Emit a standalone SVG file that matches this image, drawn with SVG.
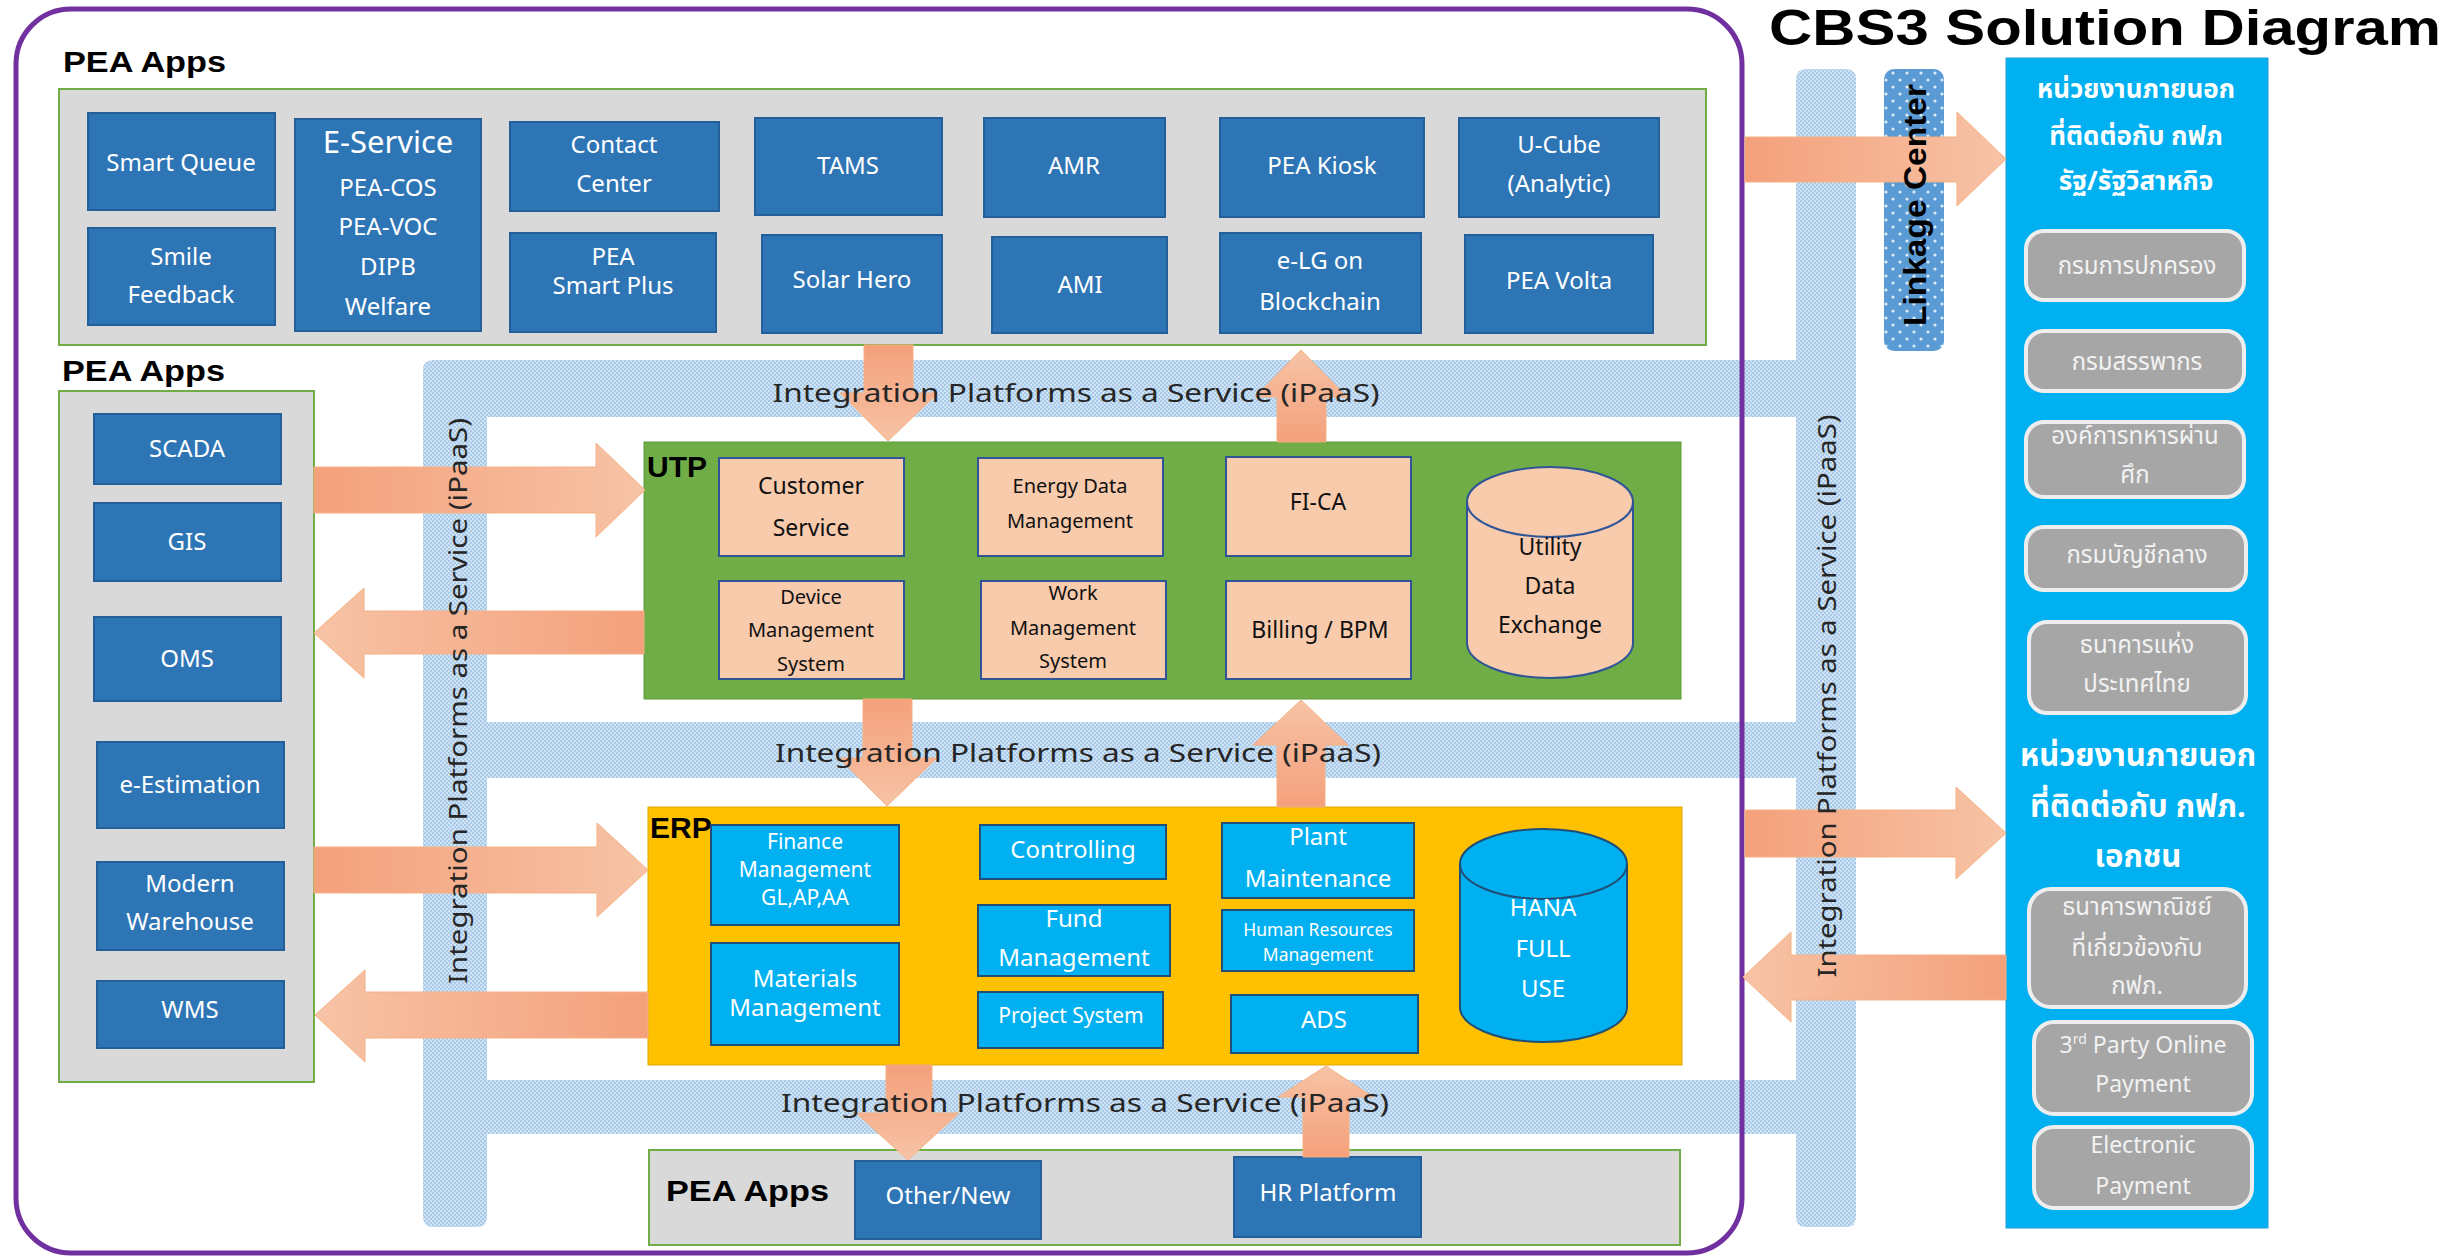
<svg xmlns="http://www.w3.org/2000/svg" width="2450" height="1260" viewBox="0 0 2450 1260">
<defs>
<pattern id="ipaasDots" width="4" height="4" patternUnits="userSpaceOnUse"><rect width="4" height="4" fill="#D0E3F4"/><rect width="2" height="2" fill="#A9CAE8"/><rect x="2" y="2" width="2" height="2" fill="#A9CAE8"/></pattern>
<pattern id="linkDots" width="14" height="14" patternUnits="userSpaceOnUse"><rect width="14" height="14" fill="#5B9BD5"/><circle cx="3" cy="3" r="1.6" fill="#DDEBF7"/><circle cx="10" cy="10" r="1.6" fill="#DDEBF7"/></pattern>
<linearGradient id="gR" x1="0" y1="0" x2="1" y2="0"><stop offset="0" stop-color="#F4A07B"/><stop offset="1" stop-color="#F7C3A6"/></linearGradient>
<linearGradient id="gL" x1="1" y1="0" x2="0" y2="0"><stop offset="0" stop-color="#F4A07B"/><stop offset="1" stop-color="#F7C3A6"/></linearGradient>
<linearGradient id="gD" x1="0" y1="0" x2="0" y2="1"><stop offset="0" stop-color="#F4A07B"/><stop offset="1" stop-color="#F7C3A6"/></linearGradient>
<linearGradient id="gU" x1="0" y1="1" x2="0" y2="0"><stop offset="0" stop-color="#F4A07B"/><stop offset="1" stop-color="#F7C3A6"/></linearGradient>
<style>
.blue{fill:#2E75B6;stroke:#23609A;stroke-width:2}
.peach{fill:#F8CBAD;stroke:#2F5597;stroke-width:2}
.cyan{fill:#00B0F0;stroke:#1F4E79;stroke-width:2}
.cont{fill:#D9D9D9;stroke:#70AD47;stroke-width:2}
.gbox{fill:#A6A6A6;stroke:#EEEEEE;stroke-width:4}
.band{fill:url(#ipaasDots)}
.tw{fill:#FFFFFF;font-family:"Noto Sans","Open Sans",sans-serif;font-size:24px;text-anchor:middle}
.tk{fill:#111111;font-family:"Noto Sans","Open Sans",sans-serif;font-size:23px;text-anchor:middle}
.s31{font-size:31px}
.s23{font-size:23px}
.s21{font-size:21px}
.s20{font-size:20px}
.s18{font-size:17.5px}
.lbl{fill:#000000;font-family:"Liberation Sans",Arial,sans-serif;font-weight:bold}
.ip{fill:#262626;font-family:"Noto Sans","Open Sans",sans-serif;font-size:26px;text-anchor:middle}
.th{fill:#FFFFFF;font-family:"Noto Sans Thai","Noto Sans Thai UI","Leelawadee UI",Tahoma,"Noto Sans",sans-serif;text-anchor:middle}
.thg{fill:#F2F2F2;font-family:"Noto Sans Thai","Noto Sans Thai UI","Leelawadee UI",Tahoma,"Noto Sans",sans-serif;font-size:24px;text-anchor:middle}
.en{fill:#F2F2F2;font-family:"Noto Sans","Open Sans",sans-serif;font-size:23px;text-anchor:middle}
.arr{stroke:#F4B183;stroke-width:1}
</style>
</defs>
<rect width="2450" height="1260" fill="#FFFFFF"/>

<!-- title -->
<text class="lbl" x="1769" y="45" font-size="50" textLength="672" lengthAdjust="spacingAndGlyphs">CBS3 Solution Diagram</text>

<!-- iPaaS bands -->
<g id="ipaas-bands">
<path class="band" d="M433 360 H1796 V79 Q1796 69 1806 69 H1846 Q1856 69 1856 79 V1217 Q1856 1227 1846 1227 H1806 Q1796 1227 1796 1217 V1134 H487 V1217 Q487 1227 477 1227 H433 Q423 1227 423 1217 V370 Q423 360 433 360 Z M487 417 V722 H1796 V417 Z M487 778 V1080 H1796 V778 Z" fill-rule="evenodd"/>
</g>

<!-- purple frame -->
<rect id="frame" x="16" y="9" width="1726" height="1244" rx="55" ry="55" fill="none" stroke="#7030A0" stroke-width="5"/>

<!-- Linkage Center -->
<g id="linkage-center">
<rect x="1884" y="69" width="60" height="282" rx="10" fill="url(#linkDots)"/>
</g>

<!-- Top PEA Apps -->
<g id="pea-apps-top">
<text class="lbl" x="63" y="72" font-size="30" textLength="163" lengthAdjust="spacingAndGlyphs">PEA Apps</text>
<rect class="cont" x="59" y="89" width="1647" height="256"/>
</g>
<g id="smart-queue"><rect class="blue" x="88" y="113" width="187" height="97"/><text class="tw" x="181" y="171">Smart Queue</text></g>
<g id="smile-feedback"><rect class="blue" x="88" y="228" width="187" height="97"/><text class="tw" x="181" y="265">Smile</text><text class="tw" x="181" y="303">Feedback</text></g>
<g id="e-service"><rect class="blue" x="295" y="119" width="186" height="212"/><text class="tw s31" x="388" y="153">E-Service</text><text class="tw" x="388" y="196">PEA-COS</text><text class="tw" x="388" y="235">PEA-VOC</text><text class="tw" x="388" y="275">DIPB</text><text class="tw" x="388" y="315">Welfare</text></g>
<g id="contact-center"><rect class="blue" x="510" y="122" width="209" height="89"/><text class="tw" x="614" y="153">Contact</text><text class="tw" x="614" y="192">Center</text></g>
<g id="pea-smart-plus"><rect class="blue" x="510" y="233" width="206" height="99"/><text class="tw" x="613" y="265">PEA</text><text class="tw" x="613" y="294">Smart Plus</text></g>
<g id="tams"><rect class="blue" x="755" y="118" width="187" height="97"/><text class="tw" x="848" y="174">TAMS</text></g>
<g id="solar-hero"><rect class="blue" x="762" y="235" width="180" height="98"/><text class="tw" x="852" y="288">Solar Hero</text></g>
<g id="amr"><rect class="blue" x="984" y="118" width="181" height="99"/><text class="tw" x="1074" y="174">AMR</text></g>
<g id="ami"><rect class="blue" x="992" y="237" width="175" height="96"/><text class="tw" x="1080" y="293">AMI</text></g>
<g id="pea-kiosk"><rect class="blue" x="1220" y="118" width="204" height="99"/><text class="tw" x="1322" y="174">PEA Kiosk</text></g>
<g id="elg-blockchain"><rect class="blue" x="1220" y="233" width="201" height="100"/><text class="tw" x="1320" y="269">e-LG on</text><text class="tw" x="1320" y="310">Blockchain</text></g>
<g id="u-cube"><rect class="blue" x="1459" y="118" width="200" height="99"/><text class="tw" x="1559" y="153">U-Cube</text><text class="tw" x="1559" y="192">(Analytic)</text></g>
<g id="pea-volta"><rect class="blue" x="1465" y="235" width="188" height="98"/><text class="tw" x="1559" y="289">PEA Volta</text></g>

<!-- Left PEA Apps -->
<g id="pea-apps-left">
<text class="lbl" x="62" y="381" font-size="30" textLength="163" lengthAdjust="spacingAndGlyphs">PEA Apps</text>
<rect class="cont" x="59" y="391" width="255" height="691"/>
</g>
<g id="scada"><rect class="blue" x="94" y="414" width="187" height="70"/><text class="tw" x="187" y="457">SCADA</text></g>
<g id="gis"><rect class="blue" x="94" y="503" width="187" height="78"/><text class="tw" x="187" y="550">GIS</text></g>
<g id="oms"><rect class="blue" x="94" y="617" width="187" height="84"/><text class="tw" x="187" y="667">OMS</text></g>
<g id="e-estimation"><rect class="blue" x="97" y="742" width="187" height="86"/><text class="tw" x="190" y="793">e-Estimation</text></g>
<g id="modern-warehouse"><rect class="blue" x="97" y="862" width="187" height="88"/><text class="tw" x="190" y="892">Modern</text><text class="tw" x="190" y="930">Warehouse</text></g>
<g id="wms"><rect class="blue" x="97" y="981" width="187" height="67"/><text class="tw" x="190" y="1018">WMS</text></g>

<!-- UTP -->
<g id="utp">
<rect x="644" y="442" width="1037" height="257" fill="#70AD47" stroke="#5E9A3A" stroke-width="1"/>
<text class="lbl" x="647" y="477" font-size="30">UTP</text>
</g>
<g id="customer-service"><rect class="peach" x="719" y="458" width="185" height="98"/><text class="tk" x="811" y="494">Customer</text><text class="tk" x="811" y="536">Service</text></g>
<g id="energy-data-management"><rect class="peach" x="978" y="458" width="185" height="98"/><text class="tk s20" x="1070" y="493">Energy Data</text><text class="tk s20" x="1070" y="528">Management</text></g>
<g id="fi-ca"><rect class="peach" x="1226" y="457" width="185" height="99"/><text class="tk" x="1318" y="510">FI-CA</text></g>
<g id="device-management-system"><rect class="peach" x="719" y="581" width="185" height="98"/><text class="tk s20" x="811" y="604">Device</text><text class="tk s20" x="811" y="637">Management</text><text class="tk s20" x="811" y="671">System</text></g>
<g id="work-management-system"><rect class="peach" x="981" y="581" width="185" height="98"/><text class="tk s20" x="1073" y="600">Work</text><text class="tk s20" x="1073" y="635">Management</text><text class="tk s20" x="1073" y="668">System</text></g>
<g id="billing-bpm"><rect class="peach" x="1226" y="581" width="185" height="98"/><text class="tk" x="1320" y="638">Billing / BPM</text></g>
<g id="utility-data-exchange">
<path class="peach" d="M1467 502 V643 A83 35 0 0 0 1633 643 V502"/>
<ellipse class="peach" cx="1550" cy="502" rx="83" ry="35"/>
<text class="tk" x="1550" y="555">Utility</text><text class="tk" x="1550" y="594">Data</text><text class="tk" x="1550" y="633">Exchange</text>
</g>

<!-- ERP -->
<g id="erp">
<rect x="648" y="807" width="1034" height="258" fill="#FFC000" stroke="#E0A800" stroke-width="1"/>
<text class="lbl" x="650" y="838" font-size="30">ERP</text>
</g>
<g id="finance-management"><rect class="cyan" x="711" y="825" width="188" height="100"/><text class="tw s21" x="805" y="849">Finance</text><text class="tw s21" x="805" y="877">Management</text><text class="tw s21" x="805" y="905">GL,AP,AA</text></g>
<g id="materials-management"><rect class="cyan" x="711" y="943" width="188" height="102"/><text class="tw" x="805" y="987">Materials</text><text class="tw" x="805" y="1016">Management</text></g>
<g id="controlling"><rect class="cyan" x="980" y="825" width="186" height="54"/><text class="tw" x="1073" y="858">Controlling</text></g>
<g id="fund-management"><rect class="cyan" x="978" y="905" width="192" height="71"/><text class="tw" x="1074" y="927">Fund</text><text class="tw" x="1074" y="966">Management</text></g>
<g id="project-system"><rect class="cyan" x="978" y="992" width="185" height="56"/><text class="tw s21" x="1071" y="1023">Project System</text></g>
<g id="plant-maintenance"><rect class="cyan" x="1222" y="823" width="192" height="75"/><text class="tw" x="1318" y="845">Plant</text><text class="tw" x="1318" y="887">Maintenance</text></g>
<g id="human-resources-management"><rect class="cyan" x="1222" y="910" width="192" height="61"/><text class="tw s18" x="1318" y="936">Human Resources</text><text class="tw s18" x="1318" y="961">Management</text></g>
<g id="ads"><rect class="cyan" x="1231" y="995" width="187" height="58"/><text class="tw" x="1324" y="1028">ADS</text></g>
<g id="hana-full-use">
<path class="cyan" d="M1460 864 V1007 A83.5 35 0 0 0 1627 1007 V864"/>
<ellipse class="cyan" cx="1543.5" cy="864" rx="83.5" ry="35"/>
<text class="tw" x="1543" y="916">HANA</text><text class="tw" x="1543" y="957">FULL</text><text class="tw" x="1543" y="997">USE</text>
</g>

<!-- Bottom PEA Apps -->
<g id="pea-apps-bottom">
<rect class="cont" x="649" y="1150" width="1031" height="95"/>
<text class="lbl" x="666" y="1201" font-size="30" textLength="163" lengthAdjust="spacingAndGlyphs">PEA Apps</text>
</g>
<g id="other-new"><rect class="blue" x="855" y="1161" width="186" height="78"/><text class="tw" x="948" y="1204">Other/New</text></g>
<g id="hr-platform"><rect class="blue" x="1234" y="1157" width="187" height="80"/><text class="tw" x="1328" y="1201">HR Platform</text></g>

<!-- External agencies panel -->
<g id="external-panel">
<rect x="2006" y="58" width="262" height="1170" fill="#00B0F0" stroke="#1FA0D8" stroke-width="1"/>
<text class="th" x="2136" y="98" font-size="26" font-weight="bold">หน่วยงานภายนอก</text>
<text class="th" x="2136" y="145" font-size="26" font-weight="bold">ที่ติดต่อกับ กฟภ</text>
<text class="th" x="2136" y="190" font-size="26" font-weight="bold">รัฐ/รัฐวิสาหกิจ</text>
<text class="th" x="2138" y="766" font-size="31" font-weight="bold">หน่วยงานภายนอก</text>
<text class="th" x="2138" y="817" font-size="31" font-weight="bold">ที่ติดต่อกับ กฟภ.</text>
<text class="th" x="2138" y="867" font-size="31" font-weight="bold">เอกชน</text>
</g>
<g id="dopa"><rect class="gbox" x="2026" y="231" width="218" height="69" rx="18"/><text class="thg" x="2137" y="274">กรมการปกครอง</text></g>
<g id="revenue-dept"><rect class="gbox" x="2026" y="331" width="218" height="60" rx="18"/><text class="thg" x="2137" y="370">กรมสรรพากร</text></g>
<g id="veterans-org"><rect class="gbox" x="2026" y="422" width="218" height="75" rx="18"/><text class="thg" x="2135" y="444">องค์การทหารผ่าน</text><text class="thg" x="2135" y="483">ศึก</text></g>
<g id="comptroller-general"><rect class="gbox" x="2026" y="527" width="220" height="63" rx="18"/><text class="thg" x="2137" y="563">กรมบัญชีกลาง</text></g>
<g id="bank-of-thailand"><rect class="gbox" x="2029" y="622" width="217" height="91" rx="18"/><text class="thg" x="2137" y="653">ธนาคารแห่ง</text><text class="thg" x="2137" y="692">ประเทศไทย</text></g>
<g id="commercial-banks"><rect class="gbox" x="2029" y="889" width="217" height="118" rx="22"/><text class="thg" x="2137" y="915">ธนาคารพาณิชย์</text><text class="thg" x="2137" y="956">ที่เกี่ยวข้องกับ</text><text class="thg" x="2137" y="994">กฟภ.</text></g>
<g id="third-party-payment"><rect class="gbox" x="2034" y="1022" width="218" height="92" rx="20"/><text class="en" x="2143" y="1053">3<tspan font-size="14" dy="-9">rd</tspan><tspan dy="9"> Party Online</tspan></text><text class="en" x="2143" y="1092">Payment</text></g>
<g id="electronic-payment"><rect class="gbox" x="2034" y="1127" width="218" height="81" rx="20"/><text class="en" x="2143" y="1153">Electronic</text><text class="en" x="2143" y="1194">Payment</text></g>

<!-- connectors -->
<g id="connectors">
<path class="arr" fill="url(#gR)" d="M1745 137 H1957 V112 L2006 159 L1957 206 V182 H1745 Z"/>
<path class="arr" fill="url(#gR)" d="M1745 810 H1956 V787 L2006 833 L1956 879 V857 H1745 Z"/>
<path class="arr" fill="url(#gL)" d="M2006 955 H1791 V932 L1743 977 L1791 1022 V1000 H2006 Z"/>
<path class="arr" fill="url(#gR)" d="M314 467 H596 V443 L645 490 L596 537 V513 H314 Z"/>
<path class="arr" fill="url(#gL)" d="M644 611 H364 V588 L314 633 L364 678 V654 H644 Z"/>
<path class="arr" fill="url(#gR)" d="M314 847 H597 V823 L648 870 L597 917 V893 H314 Z"/>
<path class="arr" fill="url(#gL)" d="M648 992 H365 V970 L315 1015 L365 1062 V1038 H648 Z"/>
<path class="arr" fill="url(#gD)" d="M864 345 H913 V393 H938 L888 441 L840 393 H864 Z"/>
<path class="arr" fill="url(#gU)" d="M1277 442 V397 H1255 L1301 350 L1347 397 H1326 V442 Z"/>
<path class="arr" fill="url(#gD)" d="M863 699 H912 V758 H937 L887 806 L839 758 H863 Z"/>
<path class="arr" fill="url(#gU)" d="M1277 807 V745 H1253 L1301 700 L1348 745 H1325 V807 Z"/>
<path class="arr" fill="url(#gD)" d="M886 1065 H932 V1113 H959 L908 1160 L856 1113 H886 Z"/>
<path class="arr" fill="url(#gU)" d="M1303 1157 V1097 H1278 L1326 1066 L1373 1097 H1349 V1157 Z"/>
</g>

<!-- labels on top of connectors -->
<g id="ipaas-labels">
<text class="ip" x="1076" y="402" textLength="607" lengthAdjust="spacingAndGlyphs">Integration Platforms as a Service (iPaaS)</text>
<text class="ip" x="1078" y="762" textLength="606" lengthAdjust="spacingAndGlyphs">Integration Platforms as a Service (iPaaS)</text>
<text class="ip" x="1085" y="1112" textLength="608" lengthAdjust="spacingAndGlyphs">Integration Platforms as a Service (iPaaS)</text>
<text class="ip" transform="translate(467 701) rotate(-90)" x="0" y="0" textLength="566" lengthAdjust="spacingAndGlyphs">Integration Platforms as a Service (iPaaS)</text>
<text class="ip" transform="translate(1836 696) rotate(-90)" x="0" y="0" textLength="563" lengthAdjust="spacingAndGlyphs">Integration Platforms as a Service (iPaaS)</text>
<text class="lbl" transform="translate(1926 205) rotate(-90)" x="0" y="0" font-size="32" text-anchor="middle" textLength="242" lengthAdjust="spacingAndGlyphs">Linkage Center</text>
</g>
</svg>
